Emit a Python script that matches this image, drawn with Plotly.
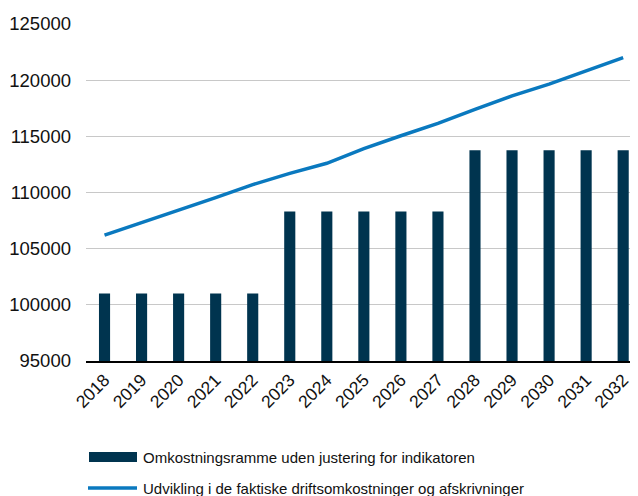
import plotly.graph_objects as go

# data
years = [str(y) for y in range(2018, 2033)]
ramme = [101000] * 5 + [108300] * 5 + [113750] * 5
udvikling = [106200, 107300, 108450, 109550, 110700, 111700, 112600, 113900,
             115050, 116150, 117400, 118600, 119650, 120850, 122000]
y_ticks = [95000, 100000, 105000, 110000, 115000, 120000, 125000]

bar_name = "Omkostningsramme uden justering for indikatoren"
line_name = "Udvikling i de faktiske driftsomkostninger og afskrivninger"

BAR_COLOR = "#00344f"
LINE_COLOR = "#0a79bf"
FONT = "Liberation Sans, Arial, Helvetica, sans-serif"

# the page body adds an 8px margin, so the figure is drawn 8px smaller
OFF = 8
W, H = 638 - OFF, 496 - OFF
L, R, T, B = 86 - OFF, 0, 24 - OFF, 135
pw, ph = W - L - R, H - T - B


def px(x):
    # page pixel -> paper fraction
    return (x - OFF - L) / pw


def py(y):
    return (H - B - (y - OFF)) / ph


fig = go.Figure()

fig.add_trace(go.Bar(
    x=years, y=ramme, name=bar_name,
    marker=dict(color=BAR_COLOR, line=dict(width=0)),
    width=0.3,
))

fig.add_trace(go.Scatter(
    x=years, y=udvikling, name=line_name, mode="lines",
    line=dict(color=LINE_COLOR, width=3.5),
))

# hand-drawn legend below the plot
fig.add_shape(type="rect", xref="paper", yref="paper",
              x0=px(89), x1=px(137), y0=py(462), y1=py(452),
              fillcolor=BAR_COLOR, line=dict(width=0))
fig.add_shape(type="line", xref="paper", yref="paper",
              x0=px(88), x1=px(137), y0=py(488), y1=py(488),
              line=dict(color=LINE_COLOR, width=3.5))
fig.add_annotation(xref="paper", yref="paper", x=px(141), y=py(457),
                   text=bar_name, showarrow=False, xanchor="left", yanchor="middle",
                   font=dict(size=15, color="#111"))
fig.add_annotation(xref="paper", yref="paper", x=px(141), y=py(488),
                   text=line_name, showarrow=False, xanchor="left", yanchor="middle",
                   font=dict(size=15, color="#111"))

fig.update_layout(
    width=W, height=H,
    margin=dict(l=L, r=R, t=T, b=B, autoexpand=False),
    plot_bgcolor="white", paper_bgcolor="white",
    showlegend=False,
    font=dict(family=FONT, size=18, color="#111"),
    xaxis=dict(
        type="category", range=[-0.5, 14.4], automargin=False,
        tickangle=-45, tickfont=dict(size=17.5),
        showline=True, linecolor="black", linewidth=2,
        showgrid=False, ticks="",
    ),
    yaxis=dict(
        range=[95000, 125000], tickvals=y_ticks, tickformat="d",
        automargin=False,
        showgrid=True, gridcolor="#c8c8c8", gridwidth=1,
        zeroline=False, showline=False, ticks="",
        tickfont=dict(size=18.5), ticklabelstandoff=14,
    ),
    bargap=0.7,
)

fig.write_html("out.html")
